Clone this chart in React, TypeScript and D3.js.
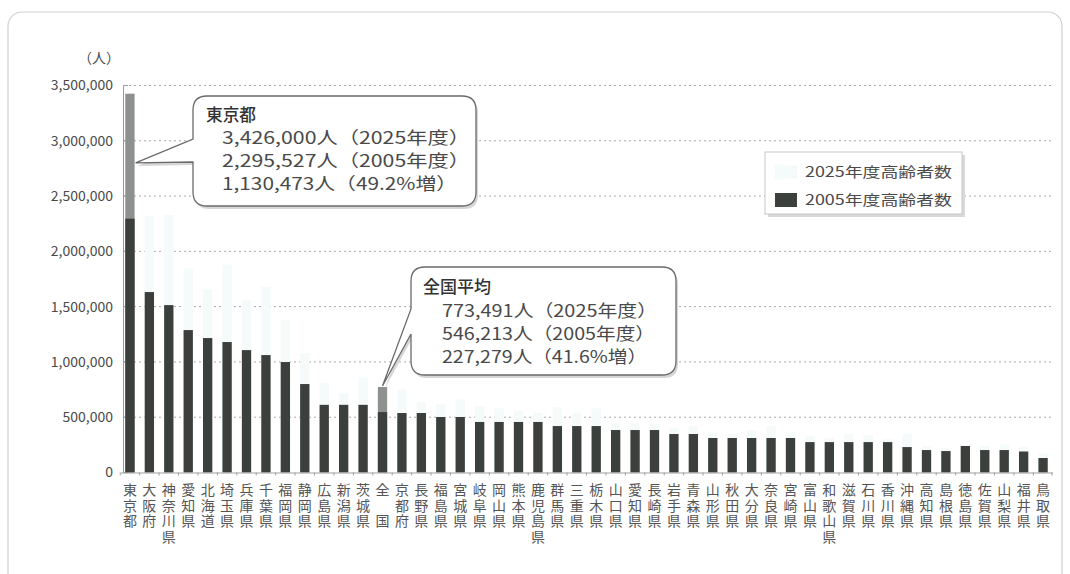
import React from "react";
import * as d3 from "d3";

const categories = [
  "東京都","大阪府","神奈川県","愛知県","北海道","埼玉県","兵庫県","千葉県","福岡県","静岡県",
  "広島県","新潟県","茨城県","全　国","京都府","長野県","福島県","宮城県","岐阜県","岡山県",
  "熊本県","鹿児島県","群馬県","三重県","栃木県","山口県","愛知県","長崎県","岩手県","青森県",
  "山形県","秋田県","大分県","奈良県","宮崎県","富山県","和歌山県","滋賀県","石川県","香川県",
  "沖縄県","高知県","島根県","徳島県","佐賀県","山梨県","福井県","鳥取県"
];

const elderly2005 = [
  2295527,1632000,1514000,1288000,1216000,1180000,1107000,1062000,999000,800000,
  612000,612000,612000,546213,538000,538000,502000,502000,457000,457000,
  457000,457000,420000,420000,420000,384000,384000,384000,348000,348000,
  312000,312000,312000,312000,312000,275000,275000,275000,275000,275000,
  230000,203000,194000,240000,203000,203000,190000,131000
];

const elderly2025 = [
  3426000,2320000,2330000,1840000,1660000,1880000,1560000,1680000,1380000,1080000,
  810000,720000,860000,773491,750000,640000,620000,660000,600000,580000,
  560000,540000,590000,540000,580000,450000,450000,440000,400000,420000,
  360000,350000,380000,420000,360000,330000,310000,350000,340000,300000,
  350000,240000,220000,240000,240000,250000,230000,170000
];

const yTicks = [0, 500000, 1000000, 1500000, 2000000, 2500000, 3000000, 3500000];

const legendItems = ["2025年度高齢者数", "2005年度高齢者数"];

const tokyoNote = ["東京都", "3,426,000人（2025年度）", "2,295,527人（2005年度）", "1,130,473人（49.2%増）"];
const nationalNote = ["全国平均", "773,491人（2025年度）", "546,213人（2005年度）", "227,279人（41.6%増）"];

const highlight = new Set(["東京都", "全　国"]);

const FONT = "'Noto Sans CJK JP', 'Noto Sans', sans-serif";
const DARK = "#3b403d";
const MID = "#8d928f";
const FAINT = "#f5fafa";
const TXT = "#4a4a4a";

export default function App() {
  const idx = categories.map((_, i) => String(i));
  const x = d3.scaleBand<string>().domain(idx).range([121, 1052]).paddingInner(0.52).paddingOuter(0.22);
  const y = d3.scaleLinear().domain([0, 3500000]).range([472.5, 85.5]);
  const fmt = d3.format(",");
  const bw = x.bandwidth();
  const xi = (i: number) => x(String(i)) as number;

  const callout = (
    box: { x: number; y: number; w: number; h: number },
    tip: [number, number],
    baseY: [number, number],
    lines: string[],
    lens: number[],
    baselines: number[],
    titleX: number,
    bodyX: number
  ) => {
    const r = 14;
    const { x: bx, y: by, w, h } = box;
    const path = [
      `M${bx + r},${by}`,
      `H${bx + w - r}`,
      `Q${bx + w},${by} ${bx + w},${by + r}`,
      `V${by + h - r}`,
      `Q${bx + w},${by + h} ${bx + w - r},${by + h}`,
      `H${bx + r}`,
      `Q${bx},${by + h} ${bx},${by + h - r}`,
      `V${baseY[1]}`,
      `L${tip[0]},${tip[1]}`,
      `L${bx},${baseY[0]}`,
      `V${by + r}`,
      `Q${bx},${by} ${bx + r},${by}`,
      "Z",
    ].join(" ");
    return (
      <g>
        <path d={path} transform="translate(2,3)" fill="#d6d6d6" stroke="none" />
        <path d={path} fill="#fff" stroke="#6a6a6a" strokeWidth={1.3} />
        {lines.map((t, i) => (
          <text
            key={i}
            x={i === 0 ? titleX : bodyX}
            y={baselines[i]}
            fontSize={17}
            fill={i === 0 ? "#333" : TXT}
            fontWeight={i === 0 ? 500 : 400}
            textLength={lens[i]}
            lengthAdjust="spacingAndGlyphs"
          >
            {t}
          </text>
        ))}
      </g>
    );
  };

  const iNat = categories.indexOf("全　国");
  const tokyoTipX = xi(0) + bw + 1;
  const natTipX = xi(iNat) + bw / 2;

  return (
    <svg
      width={1070}
      height={574}
      style={{ position: "absolute", left: 0, top: 0, background: "#fff", fontFamily: FONT }}
    >
      <rect x={8} y={12} width={1054} height={600} rx={14} fill="#fff" stroke="#d0d0d0" strokeWidth={1.2} />

      <text x={99} y={63} fontSize={14} fill={TXT} textAnchor="middle">（人）</text>

      {yTicks.filter((t) => t > 0).map((t) => (
        <line key={t} x1={124} x2={1052} y1={y(t)} y2={y(t)} stroke="#a9a9a9" strokeWidth={1} strokeDasharray="2,3" />
      ))}

      <line x1={123.5} x2={123.5} y1={y(3500000)} y2={y(0)} stroke="#9a9a9a" />
      {yTicks.map((t) => (
        <g key={t}>
          <line x1={123.5} x2={128} y1={y(t)} y2={y(t)} stroke="#9a9a9a" />
          <text x={113} y={y(t)} dy="0.35em" textAnchor="end" fontSize={14} fill={TXT}>
            {fmt(t)}
          </text>
        </g>
      ))}

      {categories.map((c, i) => {
        const bx = xi(i);
        return (
          <g key={"b" + i}>
            <rect x={bx} y={y(elderly2025[i])} width={bw} height={y(0) - y(elderly2025[i])} fill={highlight.has(c) ? MID : FAINT} />
            <rect x={bx} y={y(elderly2005[i])} width={bw} height={y(0) - y(elderly2005[i])} fill={DARK} />
          </g>
        );
      })}

      <line x1={121} x2={1053} y1={y(0) + 0.5} y2={y(0) + 0.5} stroke="#a0a0a0" />
      {categories.map((_, i) => {
        const bx = xi(i) - (x.step() - bw) / 2;
        return <line key={"t" + i} x1={bx} x2={bx} y1={y(0)} y2={y(0) + 3} stroke="#a0a0a0" />;
      })}
      <line x1={1052} x2={1052} y1={y(0)} y2={y(0) + 3} stroke="#a0a0a0" />

      {categories.map((c, i) => {
        const cx = xi(i) + bw / 2;
        return (
          <g key={"l" + i}>
            {Array.from(c).map((ch, j) =>
              ch.trim() === "" ? null : (
                <text key={j} x={cx} y={495 + j * 15.7} fontSize={14} fill="#555" textAnchor="middle">
                  {ch}
                </text>
              )
            )}
          </g>
        );
      })}

      <rect x={768} y={155} width={197} height={62} fill="#d9d9d9" />
      <rect x={765} y={152} width={197} height={62} fill="#fff" stroke="#c8c8c8" />
      <rect x={775} y={165} width={22} height={14} fill={FAINT} />
      <rect x={775} y={193} width={22} height={14} fill={DARK} />
      {legendItems.map((t, i) => (
        <text key={t} x={805} y={177 + i * 28} fontSize={14} fill={TXT} textLength={147} lengthAdjust="spacingAndGlyphs">
          {t}
        </text>
      ))}

      {callout(
        { x: 193, y: 96, w: 283, h: 110 },
        [tokyoTipX, y(2800000)],
        [139, 162],
        tokyoNote,
        [50, 248, 248, 235],
        [121, 144, 167, 190],
        206,
        222
      )}
      {callout(
        { x: 411, y: 267, w: 265, h: 108 },
        [natTipX, y(elderly2025[iNat]) - 1],
        [309, 334],
        nationalNote,
        [68, 215, 213, 205],
        [293, 317, 340, 363],
        423,
        442
      )}
    </svg>
  );
}
